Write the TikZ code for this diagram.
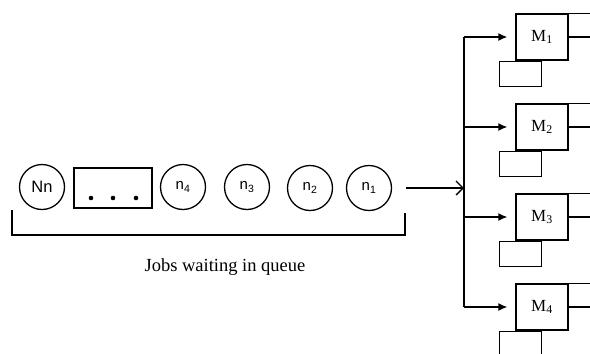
\documentclass[tikz,border=0pt]{standalone}
\usepackage{fontspec}
\setmainfont{Liberation Serif}
\setsansfont{Liberation Sans}
\usetikzlibrary{arrows.meta}
\begin{document}
\begin{tikzpicture}[x=1pt,y=-1pt,line width=1.3pt,
    job/.style={draw,circle,minimum size=45pt,inner sep=0pt,
        font=\sffamily\fontsize{15}{17}\selectfont},
    machine/.style={draw,minimum width=52pt,minimum height=46pt,inner sep=0pt,
        font=\fontsize{17}{19}\selectfont},
    buffer/.style={draw,minimum width=42pt,minimum height=25pt,inner sep=0pt,
        anchor=north east}]
    \useasboundingbox (0,0) rectangle (590,354);
    % queue of jobs
    \node[job,font=\sffamily\fontsize{16.5}{18}\selectfont] (nn) at (42,187) {Nn};
    \node[draw,line width=2pt,minimum width=78pt,minimum height=40pt] (dots) at (113,188) {};
    \foreach \dx in {-22,0,23}
        \fill ([xshift=\dx pt,yshift=-10pt]dots.center) circle (2.3pt);
    \node[job] (n4) at (183,187) {n\textsubscript{4}};
    \node[job] (n3) at (247,187) {n\textsubscript{3}};
    \node[job] (n2) at (310,188) {n\textsubscript{2}};
    \node[job] (n1) at (369,188) {n\textsubscript{1}};
    \draw (12,210) |- (405,235) -- (405,213);
    \node[font=\fontsize{18.5}{21}\selectfont] (label) at (225,267) {Jobs waiting in queue};
    % machines
    \coordinate (bus) at (464,0);
    \foreach \i in {1,...,4}{
        \node[machine] (m\i) at (542,{37+90*(\i-1)}) {M\textsubscript{\i}};
        \node[buffer] (q\i) at (m\i.south) {};
        \draw (m\i.north east) -- ++(22,0);
        \draw (m\i.east) -- ++(22,0);
        \draw[-{Latex[length=9pt,width=8pt]},shorten >=8pt] (bus |- m\i.west) -- (m\i.west);
    }
    \draw (bus |- m1.west) -- (bus |- m4.west);
    \draw[-{Straight Barb[length=7pt,width=14pt]},shorten <=14pt] (n1.east) -- (bus |- n1.east);
\end{tikzpicture}
\end{document}
